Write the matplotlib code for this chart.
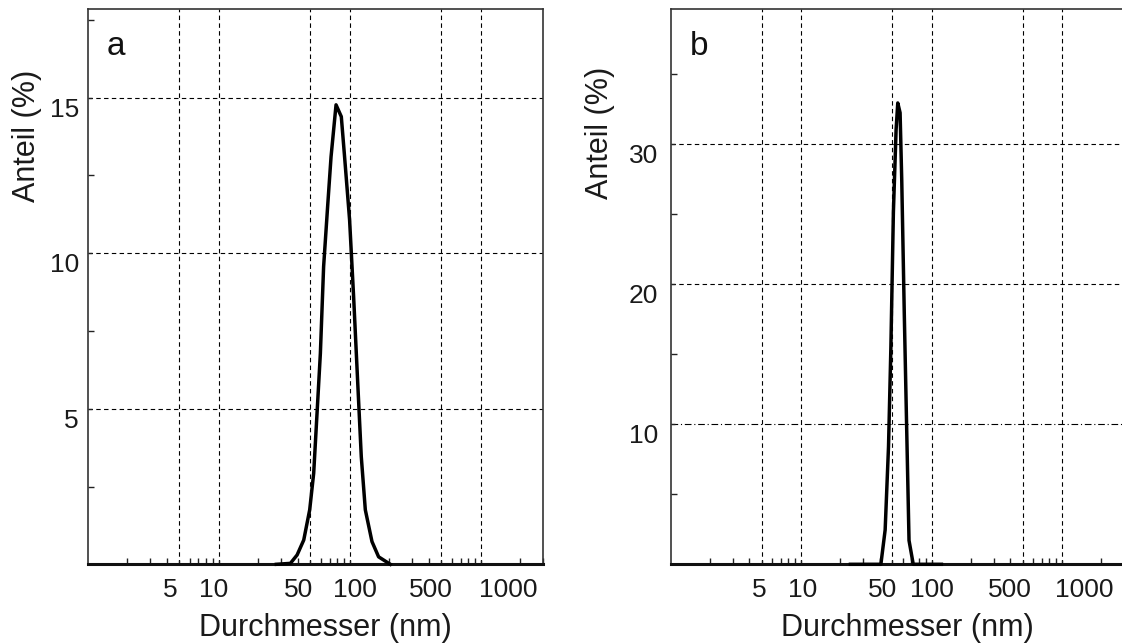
import matplotlib.pyplot as plt
from matplotlib.ticker import FixedLocator, FixedFormatter, LogLocator, NullFormatter
from matplotlib.transforms import ScaledTranslation

plt.rcParams['font.family'] = ['Liberation Sans', 'DejaVu Sans']

# --- size distributions (diameter nm, share %) ---
d_a = [27.5, 35.2, 39.6, 44.5, 49.4, 53.0, 56.2, 59.6, 63.1, 67.7, 71.9, 78.5,
       86.1, 91.2, 99.6, 106.9, 114.6, 122.3, 131.3, 147.6, 165.8, 203.7]
p_a = [0, 0.03, 0.3, 0.78, 1.75, 2.93, 4.85, 6.78, 9.57, 11.5, 13.1, 14.77,
       14.39, 13.1, 11.07, 8.6, 5.93, 3.46, 1.75, 0.73, 0.24, 0]

d_b = [23.9, 40.9, 44.1, 46.8, 48.8, 51.0, 53.5, 55.1, 57.4, 59.1, 61.8,
       64.5, 67.2, 72.4, 119]
p_b = [0, 0, 2.45, 8.4, 15.5, 25.1, 31.0, 32.9, 32.2, 27.4, 17.9,
       9.6, 1.7, 0, 0]

x_ticks = [5, 10, 50, 100, 500, 1000]
x_labels = ['5', '10', '50', '100', '500', '1000']
y_ticks_a = [5, 10, 15]
y_minor_a = [2.5, 7.5, 12.5, 17.5]
y_ticks_b = [10, 20, 30]
y_minor_b = [5, 15, 25, 35]

fig = plt.figure(figsize=(11.22, 6.43), dpi=100)
ax_a = fig.add_axes([0.0782, 0.1224, 0.4061, 0.8636])
ax_b = fig.add_axes([0.5976, 0.1224, 0.4045, 0.8636])

dash = (0, (4, 3))


def setup(ax, d, p, yt, ym, ymax, letter, xoffs, ypad, ylab_x, ylab_y):
    ax.plot(d, p, color='black', lw=2.5, clip_on=False, zorder=5,
            solid_joinstyle='round')
    ax.set_xscale('log')
    ax.set_xlim(1, 3000)
    ax.set_ylim(0, ymax)

    ax.xaxis.set_major_locator(FixedLocator(x_ticks))
    ax.xaxis.set_major_formatter(FixedFormatter(x_labels))
    ax.xaxis.set_minor_locator(LogLocator(base=10, subs=range(2, 10), numticks=20))
    ax.xaxis.set_minor_formatter(NullFormatter())
    ax.yaxis.set_major_locator(FixedLocator(yt))
    ax.yaxis.set_minor_locator(FixedLocator(ym))

    ax.tick_params(which='both', direction='in', colors='#222222',
                   labelcolor='#1a1a1a', labelsize=19)
    ax.tick_params(which='major', length=3, width=1)
    ax.tick_params(which='minor', length=4, width=1)
    ax.tick_params(axis='x', pad=10)
    ax.tick_params(axis='y', pad=ypad)

    ax.grid(True, which='major', color='black', lw=0.8, linestyle=dash)
    ax.set_axisbelow(True)

    for side in ['top', 'right', 'left']:
        ax.spines[side].set_linewidth(1.2)
        ax.spines[side].set_color('#333333')
    ax.spines['bottom'].set_linewidth(2.2)
    ax.spines['bottom'].set_color('#111111')

    ax.set_xlabel('Durchmesser (nm)', fontsize=22, color='#1a1a1a')
    ax.xaxis.set_label_coords(0.522, -0.0877)
    ax.set_ylabel('Anteil (%)', fontsize=22, color='#1a1a1a')
    ax.yaxis.set_label_coords(ylab_x, ylab_y)

    ax.text(0.042, 0.917, letter, transform=ax.transAxes, fontsize=24,
            color='#111111', va='baseline')

    for lab in ax.get_yticklabels():
        lab.set_va('top')
    for lab, off in zip(ax.get_xticklabels(), xoffs):
        lab.set_transform(lab.get_transform() +
                          ScaledTranslation(off / 100, 0, fig.dpi_scale_trans))


setup(ax_a, d_a, p_a, y_ticks_a, y_minor_a, 17.85, 'a',
      [-9, -5, -12, 5, -10.5, 27.6], 6.3, -0.101, 0.771)
setup(ax_b, d_b, p_b, y_ticks_b, y_minor_b, 39.6, 'b',
      [-2.7, 2, -9.5, 0, -13, 21.7], 9.0, -0.122, 0.777)
ax_b.spines['right'].set_visible(False)

# the 10 % line in panel b is dash-dotted
ax_b.get_ygridlines()[0].set_linestyle((0, (6, 2.5, 1, 2.5)))

fig.savefig('out.png', dpi=100)
